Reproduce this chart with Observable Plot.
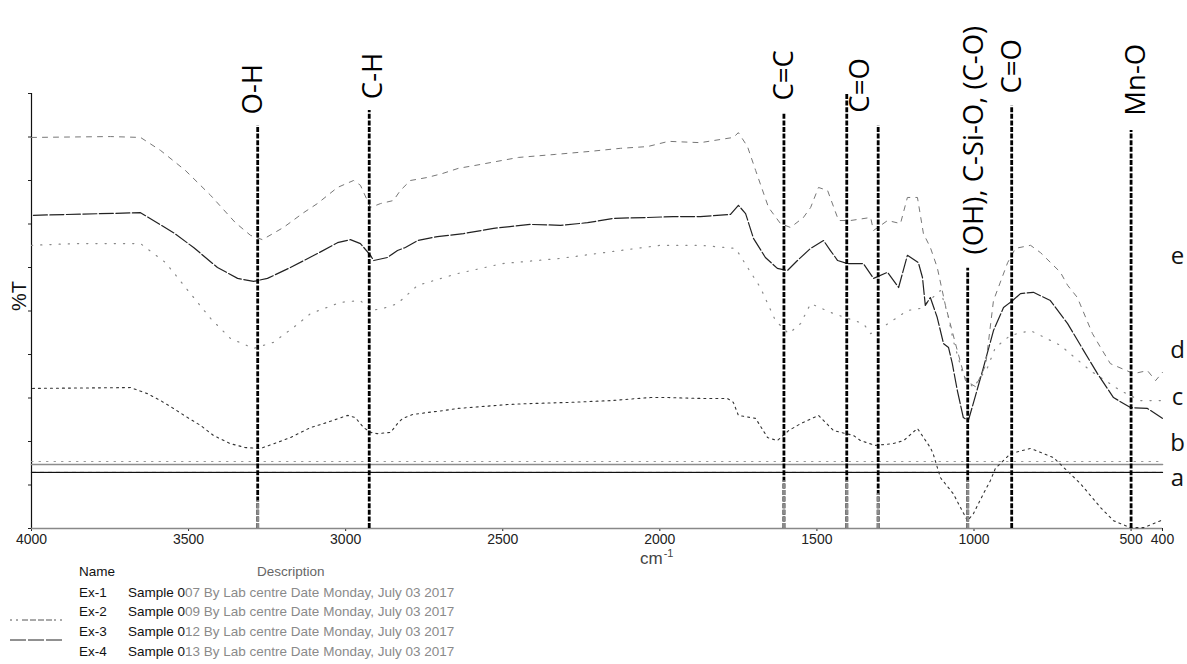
<!DOCTYPE html>
<html><head><meta charset="utf-8">
<script src="https://cdn.jsdelivr.net/npm/d3@7"></script>
<script src="https://cdn.jsdelivr.net/npm/@observablehq/plot@0.6"></script>
<style>
html,body{margin:0;padding:0;background:#fff;}
body{position:relative;width:1187px;height:664px;overflow:hidden;font-family:"Liberation Sans",Arial,sans-serif;}
#chart svg{display:block;overflow:visible;}
.lg{position:absolute;font-size:13.5px;line-height:16px;white-space:nowrap;color:#111;}
.g{color:#8a8a8a;}
</style></head><body>
<div id="chart"></div>
<div id="legend"></div>
<script>
// ---- data: [wavenumber cm-1, %T] ----
const seriesA1 = [[4000, 15.4], [400, 15.4]];   // faint dotted flat line
const seriesA2 = [[4000, 14.7], [400, 14.7]];   // grey flat line
const seriesA3 = [[4000, 12.9], [400, 12.9]];   // black flat line (a)
const seriesB = [[3997,32.2],[3685,32.4],[3631,31.0],[3589,29.4],[3548,27.6],[3503,25.5],[3462,23.7],[3421,21.4],[3367,19.5],[3319,18.6],[3271,18.4],[3217,19.8],[3176,20.9],[3112,23.2],[3071,24.1],[2994,26.0],[2969,25.5],[2943,23.2],[2921,22.1],[2899,21.8],[2857,22.1],[2835,24.1],[2819,25.3],[2787,26.2],[2736,26.7],[2689,27.1],[2644,27.6],[2571,28.0],[2485,28.5],[2421,28.7],[2284,29.0],[2157,29.4],[2030,30.1],[1972,30.1],[1871,29.9],[1785,29.9],[1766,29.0],[1750,26.0],[1695,25.3],[1657,20.9],[1626,20.2],[1590,22.5],[1552,24.1],[1495,26.0],[1447,22.5],[1384,21.4],[1361,20.2],[1314,19.1],[1259,19.5],[1224,20.2],[1180,23.0],[1139,18.6],[1130,17.2],[1107,11.7],[1066,8.0],[1021,1.8],[1002,3.4],[970,8.0],[948,11.0],[932,13.8],[884,17.2],[820,18.4],[747,16.3],[661,10.3],[597,4.8],[556,1.8],[502,0.2],[460,0.2],[406,1.8]];
const seriesC = [[4000,65.1],[3860,65.5],[3653,65.5],[3573,61.1],[3494,54.0],[3430,48.3],[3367,43.7],[3293,41.4],[3230,42.8],[3166,46.2],[3112,49.4],[3016,52.0],[2953,52.4],[2921,50.1],[2880,50.6],[2835,51.7],[2771,55.9],[2644,58.6],[2501,60.9],[2316,62.1],[2148,63.7],[1998,65.1],[1871,65.1],[1759,64.4],[1711,58.9],[1680,55.4],[1632,47.8],[1590,44.8],[1552,47.1],[1520,51.7],[1447,49.4],[1352,47.1],[1329,44.8],[1282,46.7],[1212,50.1],[1170,50.6],[1107,54.7],[1084,49.4],[1066,43.2],[1034,35.2],[1002,32.4],[957,37.0],[932,41.6],[884,44.4],[820,45.5],[725,42.1],[630,36.3],[534,31.7],[470,29.4],[406,29.4]];
const seriesD = [[3994,72.0],[3653,72.6],[3612,70.8],[3548,68.0],[3484,64.6],[3408,60.0],[3344,57.5],[3293,56.8],[3249,57.5],[3176,60.0],[3090,63.2],[3026,65.7],[2985,66.4],[2953,65.5],[2921,62.8],[2911,61.6],[2867,62.3],[2835,63.9],[2810,64.6],[2771,66.2],[2708,67.1],[2625,67.8],[2529,69.0],[2412,69.9],[2316,69.7],[2230,70.3],[2148,71.3],[2039,71.5],[1957,71.7],[1871,71.7],[1775,72.2],[1750,74.3],[1727,72.4],[1702,66.7],[1664,62.3],[1626,59.8],[1594,59.3],[1562,61.6],[1520,64.4],[1479,66.2],[1457,63.9],[1434,61.6],[1403,60.9],[1352,60.9],[1320,57.5],[1275,58.9],[1240,55.4],[1212,62.8],[1177,61.1],[1164,57.7],[1155,51.3],[1139,53.1],[1117,48.5],[1097,42.5],[1081,41.6],[1069,37.9],[1053,31.7],[1034,25.5],[1018,24.8],[995,30.6],[970,37.0],[938,45.5],[906,50.8],[877,52.4],[852,54.0],[811,54.3],[757,52.4],[702,47.1],[651,40.9],[607,35.6],[556,30.1],[502,27.8],[448,27.6],[400,25.3]];
const seriesE = [[4000,89.9],[3749,90.1],[3653,89.9],[3589,86.9],[3510,82.3],[3430,76.6],[3351,70.3],[3303,67.4],[3265,66.4],[3198,69.2],[3134,72.6],[3090,74.7],[3026,78.4],[2975,80.0],[2953,78.9],[2921,73.8],[2889,74.7],[2848,75.4],[2826,77.7],[2794,80.0],[2740,80.7],[2692,81.6],[2641,82.8],[2593,83.4],[2450,85.3],[2332,86.0],[2221,86.7],[2125,87.4],[2039,87.8],[1972,89.0],[1871,88.7],[1766,89.9],[1750,91.0],[1721,87.8],[1695,82.3],[1654,73.8],[1616,70.1],[1584,69.2],[1543,71.5],[1520,73.8],[1495,78.4],[1466,77.7],[1431,70.8],[1393,70.8],[1329,71.5],[1320,68.5],[1275,70.8],[1234,70.1],[1212,76.1],[1180,76.1],[1161,67.8],[1139,64.6],[1117,60.0],[1091,51.3],[1059,42.5],[1027,34.0],[995,32.6],[963,37.5],[938,52.4],[893,61.1],[868,64.4],[820,65.1],[788,63.4],[725,58.9],[702,55.9],[671,53.1],[623,44.8],[597,41.6],[566,37.9],[492,35.6],[448,36.3],[422,34.0],[400,35.9]];

// band assignments
const bandWn     = [3280, 2925, 1605, 1405, 1305, 1020, 880, 500];
const bandTop    = [92.6, 96.1, 95.4, 100, 92.6, 59.8, 97.2, 91.5];
const bandGreyTo = [6.4, 0, 11, 11, 8, 11, 0, 0];
const bandLabels  = ["O-H", "C-H", "C=C", "C=O", "(OH), C-Si-O, (C-O)", "C=O", "Mn-O"];
const bandLabelWn = [3293, 2911, 1605, 1361, 1000, 877, 483];
const bandLabelT  = [95.2, 98.7, 98.4, 95.6, 63.0, 100.0, 94.9];

// curve letters on the right
const curveLetters = ["e", "d", "c", "b", "a"];
const curveLetterT = [60.9, 39.1, 28.3, 17.8, 9.8];

const xTicks = [4000, 3500, 3000, 2500, 2000, 1500, 1000, 500, 400];
const yTicks = [0, 10, 20, 30, 40, 50, 60, 70, 80, 90, 100];

// legend
const legendNames = ["Ex-1", "Ex-2", "Ex-3", "Ex-4"];
const legendSamples = ["007", "009", "012", "013"];
const legendRest = " By Lab centre Date Monday, July 03 2017";

// ---- build ----
const bands = bandWn.map((w, i) => ({wn: w, top: bandTop[i], grey: bandGreyTo[i]}));
const bandText = bandLabels.map((l, i) => ({label: l, wn: bandLabelWn[i], t: bandLabelT[i]}));
const letters = curveLetters.map((l, i) => ({label: l, t: curveLetterT[i]}));
const X = d => d[0], Y = d => d[1];

const chart = Plot.plot({
  width: 1187, height: 565,
  marginLeft: 31, marginRight: 25, marginTop: 93, marginBottom: 37,
  style: {fontFamily: "'Liberation Sans', Arial, sans-serif", background: "#fff", overflow: "visible"},
  x: {domain: [4000, 400]},
  y: {domain: [0, 100]},
  marks: [
    Plot.axisX({ticks: xTicks, tickSize: 3, tickPadding: 3, fontSize: 14, tickFormat: d => String(d), label: null, color: "#222"}),
    Plot.axisY({ticks: yTicks, tickSize: 3, tickFormat: () => "", label: null, color: "#222"}),
    Plot.ruleX([4000], {y1: 0, y2: 100, stroke: "#111", strokeWidth: 1.2}),
    Plot.ruleY([0], {stroke: "#888", strokeWidth: 1.6}),
    Plot.line(seriesA1, {x: X, y: Y, stroke: "#999", strokeWidth: 1, strokeDasharray: "1.5,6"}),
    Plot.line(seriesA2, {x: X, y: Y, stroke: "#8c8c8c", strokeWidth: 1.6}),
    Plot.line(seriesA3, {x: X, y: Y, stroke: "#111", strokeWidth: 1.3, strokeDasharray: "5,1,1,1"}),
    Plot.line(seriesB, {x: X, y: Y, stroke: "#333", strokeWidth: 1.1, strokeDasharray: "2,4"}),
    Plot.line(seriesC, {x: X, y: Y, stroke: "#888", strokeWidth: 1.2, strokeDasharray: "1.2,8"}),
    Plot.line(seriesD, {x: X, y: Y, stroke: "#222", strokeWidth: 1.2, strokeDasharray: "14,2.5"}),
    Plot.line(seriesE, {x: X, y: Y, stroke: "#777", strokeWidth: 1, strokeDasharray: "5,6"}),
    Plot.ruleX(bands, {x: "wn", y1: 0, y2: "top", stroke: "#000", strokeWidth: 2.8, strokeDasharray: "5,1.6"}),
    Plot.ruleX(bands.filter(d => d.grey > 0), {x: "wn", y1: 0, y2: "grey", stroke: "#8a8a8a", strokeWidth: 2.8, strokeDasharray: "5,1.6"}),
    Plot.text(bandText, {x: "wn", y: "t", text: "label", rotate: -90, textAnchor: "start", fontSize: 27.5, fontFamily: "'Open Sans', sans-serif", fill: "#000"}),
    Plot.text(letters, {x: 400, y: "t", text: "label", dx: 15, lineAnchor: "bottom", textAnchor: "middle", fontSize: 24, fontFamily: "'Open Sans', sans-serif", fill: "#111"}),
    Plot.text(["%T"], {text: d => d, frameAnchor: "left", dx: -12, rotate: -90, fontSize: 20, fill: "#111"}),
    Plot.text(["cm"], {text: d => d, x: 1991, frameAnchor: "bottom", dy: 35, textAnchor: "end", fontSize: 17, fill: "#444"}),
    Plot.text(["-1"], {text: d => d, x: 1991, frameAnchor: "bottom", dy: 28, dx: 1, textAnchor: "start", fontSize: 11, fill: "#444"})
  ]
});
document.getElementById("chart").appendChild(chart);

// legend (HTML below the plot)
const lg = document.getElementById("legend");
function add(html, left, cy) {
  const s = document.createElement("div");
  s.className = "lg";
  s.style.left = left + "px";
  s.style.top = (cy - 8) + "px";
  s.innerHTML = html;
  lg.appendChild(s);
}
add("Name", 79, 572);
add('<span class="g" style="color:#666">Description</span>', 257, 572);
const rowY = [593, 612, 632, 652];
legendNames.forEach((n, i) => {
  add(n, 79, rowY[i]);
  add('Sample 0<span class="g">' + legendSamples[i].slice(1) + legendRest + '</span>', 128, rowY[i]);
});
const swatch = (cy, stroke, dash) => {
  const s = document.createElement("div");
  s.style.cssText = "position:absolute;left:8px;top:" + (cy - 3) + "px;";
  s.innerHTML = '<svg width="56" height="6"><line x1="2" y1="3" x2="54" y2="3" stroke="' + stroke + '" stroke-width="1" stroke-dasharray="' + dash + '"/></svg>';
  lg.appendChild(s);
};
swatch(612, "#555", "2,4,2,4,6,2,6,2,6,2,6,2");
swatch(632, "#222", "16,2");
</script></body></html>
